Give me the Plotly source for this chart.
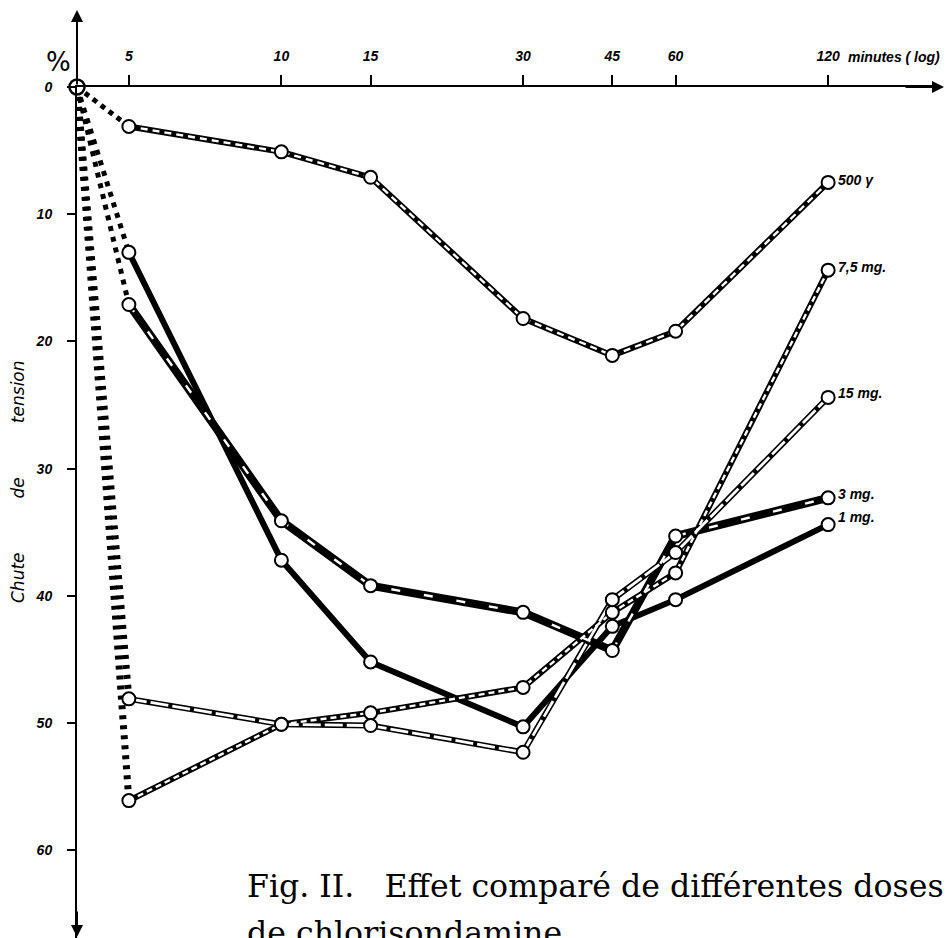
import numpy as np
import plotly.graph_objects as go

# ---- data ----
times = [5, 10, 15, 30, 45, 60, 120]          # minutes (log scale)
origin_t = 3.95                                # where the origin (time zero) sits on the log axis
x_tick_vals = [5, 10, 15, 30, 45, 60, 120]
x_tick_text = ["5", "10", "15", "30", "45", "60", "120"]
y_tick_vals = [0, 10, 20, 30, 40, 50, 60]
y_tick_text = ["0", "10", "20", "30", "40", "50", "60"]

s_500g = [3.1, 5.1, 7.1, 18.2, 21.1, 19.2, 7.5]
s_7_5mg = [56.1, 50.1, 49.2, 47.2, 41.3, 38.2, 14.4]
s_15mg = [48.1, 50.1, 50.2, 52.3, 40.3, 36.6, 24.4]
s_3mg = [17.1, 34.1, 39.2, 41.3, 44.3, 35.3, 32.3]
s_1mg = [13.0, 37.2, 45.2, 50.3, 42.4, 40.3, 34.4]

series_names = ["500 γ", "7,5 mg.", "15 mg.", "3 mg.", "1 mg."]
series_values = [s_500g, s_7_5mg, s_15mg, s_3mg, s_1mg]

# ---- styles ----
styles = {
    "500 γ":   dict(outer=6.0, inner=2.4, inner_dash="7px,5px", lead_w=5, lead_dash="5px,5px", lab_dy=2),
    "7,5 mg.": dict(outer=6.0, inner=2.4, inner_dash="6px,4px", lead_w=7, lead_dash="4px,6px", lab_dy=3),
    "15 mg.":  dict(outer=6.0, inner=2.8, inner_dash="18px,4px", lead_w=7, lead_dash="4px,6px", lab_dy=4),
    "3 mg.":   dict(outer=8.0, inner=2.4, inner_dash="9px,24px", lead_w=5, lead_dash="5px,6px", lab_dy=4),
    "1 mg.":   dict(outer=6.0, inner=0, inner_dash=None, lead_w=5, lead_dash="5px,6px", lab_dy=8),
}

tick_font = dict(family="Liberation Sans", size=14, color="black", style="italic", weight="bold")
lab_font = dict(family="Liberation Sans", size=14, color="black", style="italic", weight="bold")

fig = go.Figure()

# dotted lead-in segments from the origin to the first measurement
for name, vals in zip(series_names, series_values):
    st = styles[name]
    fig.add_trace(go.Scatter(x=[origin_t, times[0]], y=[0, vals[0]], mode="lines",
                             line=dict(color="black", width=st["lead_w"], dash=st["lead_dash"]),
                             hoverinfo="skip", showlegend=False, cliponaxis=False))

# black body of each curve
for name, vals in zip(series_names, series_values):
    st = styles[name]
    fig.add_trace(go.Scatter(x=times, y=vals, mode="lines",
                             line=dict(color="black", width=st["outer"]),
                             name=name, showlegend=False, cliponaxis=False))

# white inner dashes
for name, vals in zip(series_names, series_values):
    st = styles[name]
    if st["inner"] > 0:
        fig.add_trace(go.Scatter(x=times, y=vals, mode="lines",
                                 line=dict(color="white", width=st["inner"], dash=st["inner_dash"]),
                                 hoverinfo="skip", showlegend=False, cliponaxis=False))

# open circle markers
for name, vals in zip(series_names, series_values):
    fig.add_trace(go.Scatter(x=times, y=vals, mode="markers",
                             marker=dict(size=13, color="white", line=dict(color="black", width=2)),
                             name=name, showlegend=False, cliponaxis=False))

# origin circle
fig.add_trace(go.Scatter(x=[origin_t], y=[0], mode="markers",
                         marker=dict(size=15, color="white", line=dict(color="black", width=2.5)),
                         hoverinfo="skip", showlegend=False, cliponaxis=False))

annotations = []
# series labels at the right
for name, vals in zip(series_names, series_values):
    annotations.append(dict(x=np.log10(times[-1]), y=vals[-1], xref="x", yref="y",
                            text=name, showarrow=False, xanchor="left", yanchor="middle",
                            xshift=8, yshift=styles[name]["lab_dy"], font=lab_font))

W, H = 951, 938
L, T, B, R = 77, 87, 0, 11
pw, ph = W - L - R, H - T - B


def px_x(px):
    return (px - L) / pw


def px_y(py):
    return (H - B - py) / ph


# axis arrows
annotations += [
    dict(x=0, y=px_y(10), xref="paper", yref="paper", ax=0, ay=76, axref="pixel", ayref="pixel",
         text="", showarrow=True, arrowhead=2, arrowsize=1.2, arrowwidth=2, arrowcolor="black"),
    dict(x=0, y=px_y(940), xref="paper", yref="paper", ax=0, ay=-30,
         text="", showarrow=True, arrowhead=2, arrowsize=1.2, arrowwidth=2, arrowcolor="black"),
    dict(x=px_x(944), y=1, xref="paper", yref="paper", ax=-40, ay=0,
         text="", showarrow=True, arrowhead=2, arrowsize=1.2, arrowwidth=2, arrowcolor="black"),
]
# axis texts
gap = "\u00a0" * 10
annotations += [
    dict(x=px_x(44), y=px_y(45), xref="paper", yref="paper", text="%", showarrow=False,
         font=dict(family="DejaVu Sans", size=26, color="black")),
    dict(x=px_x(846), y=px_y(57), xref="paper", yref="paper", text="minutes ( log)", showarrow=False,
         xanchor="left", yanchor="middle", font=tick_font),
    dict(x=px_x(18), y=px_y(482), xref="paper", yref="paper",
         text="Chute" + gap + "de" + gap + "tension", showarrow=False,
         xanchor="center", yanchor="middle",
         textangle=-90, font=dict(family="DejaVu Sans", size=17, color="#000000", style="italic")),
]
# caption
cap_font = dict(family="DejaVu Serif", size=31.6, color="black")
annotations += [
    dict(x=px_x(245), y=px_y(886), xref="paper", yref="paper",
         text="Fig. II.\u00a0\u00a0\u00a0Effet comparé de différentes doses", showarrow=False,
         xanchor="left", yanchor="middle", font=cap_font),
    dict(x=px_x(245), y=px_y(933), xref="paper", yref="paper",
         text="de chlorisondamine.", showarrow=False,
         xanchor="left", yanchor="middle", font=cap_font),
]

fig.update_layout(
    width=W, height=H,
    margin=dict(l=L, r=R, t=T, b=B, pad=0),
    paper_bgcolor="white", plot_bgcolor="white",
    showlegend=False,
    annotations=annotations,
    xaxis=dict(type="log", range=[np.log10(origin_t), 2.300], side="top",
               showline=True, linecolor="black", linewidth=2,
               ticks="outside", ticklen=10, tickwidth=2, tickcolor="black",
               tickvals=x_tick_vals, ticktext=x_tick_text, tickfont=tick_font,
               ticklabelstandoff=8,
               showgrid=False, zeroline=False),
    yaxis=dict(range=[66.9, 0], showline=True, linecolor="black", linewidth=2,
               ticks="outside", ticklen=8, tickwidth=2, tickcolor="black",
               tickvals=y_tick_vals, ticktext=y_tick_text, tickfont=tick_font,
               ticklabelstandoff=12,
               showgrid=False, zeroline=False),
)

# remove the default 8px page margin so the 951x938 figure fills the window exactly
fig.write_html("out.html",
               config={"displayModeBar": False},
               post_script="document.body.style.margin='0px';document.body.style.overflow='hidden';")
